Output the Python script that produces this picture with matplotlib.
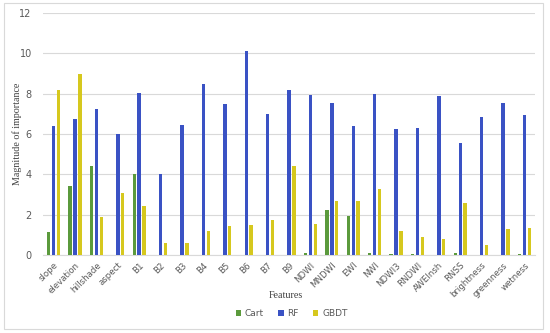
import numpy as np
import matplotlib
matplotlib.use('Agg')
import matplotlib.pyplot as plt
from matplotlib.patches import Rectangle

features = ['slope', 'elevation', 'hillshade', 'aspect', 'B1', 'B2', 'B3', 'B4', 'B5', 'B6', 'B7', 'B9',
            'NDWI', 'MNDWI', 'EWI', 'NWI', 'NDWI3', 'RNDWI', 'AWEInsh', 'RNSS', 'brightness', 'greenness', 'wetness']
cart = [1.16, 3.43, 4.4, 0, 4.03, 0, 0, 0, 0, 0, 0, 0,
        0.08, 2.25, 1.93, 0.08, 0.05, 0.03, 0, 0.08, 0, 0.02, 0.03]
rf = [6.38, 6.74, 7.25, 5.98, 8.03, 4.03, 6.45, 8.5, 7.47, 10.12, 7.0, 8.18,
      7.92, 7.54, 6.4, 7.97, 6.26, 6.3, 7.88, 5.54, 6.85, 7.54, 6.95]
gbdt = [8.2, 8.98, 1.9, 3.08, 2.44, 0.62, 0.62, 1.2, 1.46, 1.48, 1.72, 4.43,
        1.52, 2.66, 2.69, 3.28, 1.2, 0.9, 0.82, 2.57, 0.52, 1.28, 1.33]

fig = plt.figure(figsize=(5.5, 3.33), dpi=100)
ax = fig.add_axes([0.078, 0.234, 0.895, 0.727])

x = np.arange(len(features))
w = 0.16
step = 0.23
ax.bar(x - step, cart, w, color='#5b9a3c', label='Cart', zorder=3)
ax.bar(x, rf, w, color='#3a52c4', label='RF', zorder=3)
ax.bar(x + step, gbdt, w, color='#d6c81e', label='GBDT', zorder=3)

ax.set_ylim(0, 12)
ax.set_xlim(-0.5, len(features) - 0.5)
ax.set_yticks(range(0, 13, 2))
ax.grid(axis='y', color='#d9d9d9', linewidth=0.8, zorder=0)
for s in ['top', 'right', 'left']:
    ax.spines[s].set_visible(False)
ax.spines['bottom'].set_color('#d9d9d9')
ax.tick_params(axis='y', length=0, labelsize=7, colors='#595959', pad=8)
ax.tick_params(axis='x', length=0, labelsize=6.2, colors='#595959', pad=4)
ax.set_xticks(x)
ax.set_xticklabels(features, rotation=45, ha='right', rotation_mode='anchor')

ax.set_ylabel('Magnitude of importance', family='Liberation Serif', fontsize=7.2, color='#404040')
ax.yaxis.set_label_coords(-0.042, 0.5)
fig.text(0.52, 1 - 296 / 333, 'Features', family='Liberation Serif', fontsize=7.2,
         color='#404040', ha='center', va='center')

fig.legend(loc='center', ncol=3, bbox_to_anchor=(0.53, 1 - 314 / 333), frameon=False,
           fontsize=6.5, handlelength=0.6, handleheight=0.6, handletextpad=0.4,
           columnspacing=1.6, labelcolor='#595959')

fig.patches.append(Rectangle((0.007, 0.012), 0.98, 0.978, transform=fig.transFigure,
                             fill=False, edgecolor='#d9d9d9', linewidth=0.8))

fig.savefig('out.png', dpi=100)
